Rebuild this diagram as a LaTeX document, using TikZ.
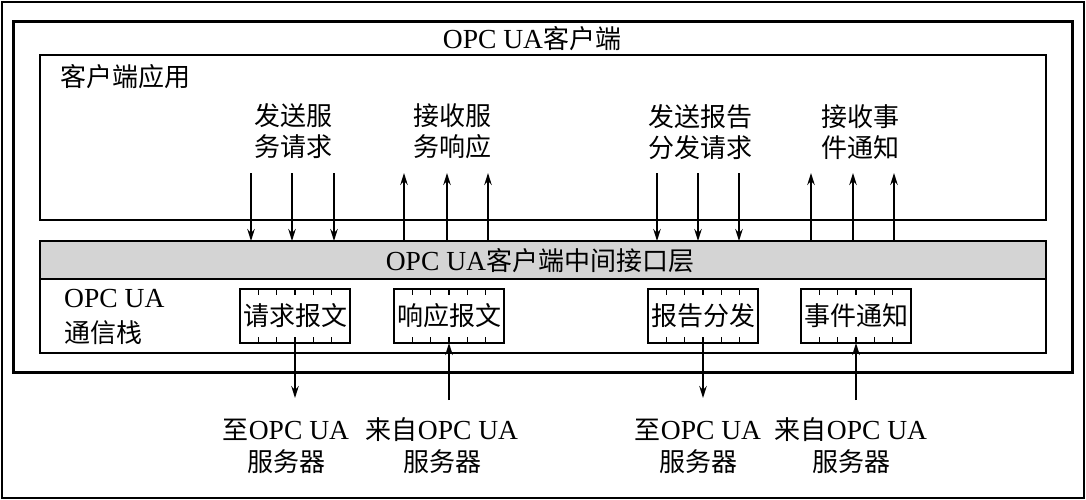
\documentclass[tikz,border=0pt]{standalone}
\usepackage{fontspec}
\setmainfont{Liberation Serif}[Scale=1.06]
\newfontfamily\zh{Noto Sans CJK SC}
\usetikzlibrary{arrows.meta,calc}
\definecolor{bargray}{HTML}{D4D4D4}
\begin{document}
\begin{tikzpicture}[x=1pt,y=-1pt,
  txt/.style={font=\fontsize{26}{31}\selectfont, align=center, inner sep=0pt},
  frame/.style={draw, line width=1.6pt, inner sep=0pt, outer sep=0pt},
  msgbox/.style={draw, line width=1.5pt, minimum width=110pt, minimum height=54pt, inner sep=0pt, outer sep=0pt, font=\fontsize{26}{31}\selectfont\zh},
  arr/.style={-{Stealth[length=12pt,width=7.5pt]}, line width=1.4pt},
  tick/.style={line width=1.2pt}]
\useasboundingbox (0,0) rectangle (1086,500);
% frames
\node[frame, line width=1.2pt, minimum width=1082pt, minimum height=496pt] (outer) at (543,250) {};
\node[frame, line width=3pt, minimum width=1059pt, minimum height=350pt] (client) at (542.5,197) {};
\node[frame, minimum width=1006pt, minimum height=165pt] (app) at (543,137.5) {};
\node[frame, fill=bargray, minimum width=1006pt, minimum height=38pt] (bar) at (543,260) {};
\node[frame, minimum width=1006pt, minimum height=74pt] (stack) at (543,316) {};
% texts
\node[txt] (title) at (532,39) {OPC UA{\zh 客户端}};
\node[txt, anchor=west] (apptxt) at (60,77) {\zh 客户端应用};
\node[txt] (bartxt) at (540,261) {OPC UA{\zh 客户端中间接口层}};
\node[txt, anchor=west, align=left, font=\fontsize{26}{35}\selectfont] (stacktxt) at (64,317) {OPC UA\\{\zh 通信栈}};
\node[txt] (l1) at (293,131) {\zh 发送服\\\zh 务请求};
\node[txt] (l2) at (452,131) {\zh 接收服\\\zh 务响应};
\node[txt] (l3) at (700,132) {\zh 发送报告\\\zh 分发请求};
\node[txt] (l4) at (860,132) {\zh 接收事\\\zh 件通知};
% message boxes
\node[msgbox] (m1) at (295,316) {请求报文};
\node[msgbox] (m2) at (449,316) {响应报文};
\node[msgbox] (m3) at (703,316) {报告分发};
\node[msgbox] (m4) at (856,316) {事件通知};
\foreach \m in {m1,m2,m3,m4}{
  \foreach \i in {1,...,5}{
    \draw[tick] ($(\m.north west)!\i/6!(\m.north east)$) -- ++(0,6);
    \draw[tick] ($(\m.south west)!\i/6!(\m.south east)$) -- ++(0,-6);
  }
}
% top arrows
\foreach \x [count=\k] in {251,292,334,657,698,739}{
  \coordinate (d\k) at (\x,173);
  \draw[arr] (d\k) -- (d\k |- bar.north);
}
\foreach \x [count=\k] in {404,447,488,811,853,894}{
  \coordinate (u\k) at (\x,173);
  \draw[arr] (u\k |- bar.north) -- (u\k);
}
% bottom labels
\node[txt, font=\fontsize{26}{32}\selectfont] (b1) at (286,446) {{\zh 至}OPC UA\\{\zh 服务器}};
\node[txt, font=\fontsize{26}{32}\selectfont] (b2) at (442,446) {{\zh 来自}OPC UA\\{\zh 服务器}};
\node[txt, font=\fontsize{26}{32}\selectfont] (b3) at (698,446) {{\zh 至}OPC UA\\{\zh 服务器}};
\node[txt, font=\fontsize{26}{32}\selectfont] (b4) at (851,446) {{\zh 来自}OPC UA\\{\zh 服务器}};
\coordinate (e1) at (295,398);
\coordinate (e2) at (449,400);
\coordinate (e3) at (703,398);
\coordinate (e4) at (856,400);
\draw[arr] (m1.south) -- (e1);
\draw[arr] (e2) -- (m2.south);
\draw[arr] (m3.south) -- (e3);
\draw[arr] (e4) -- (m4.south);
\end{tikzpicture}
\end{document}
